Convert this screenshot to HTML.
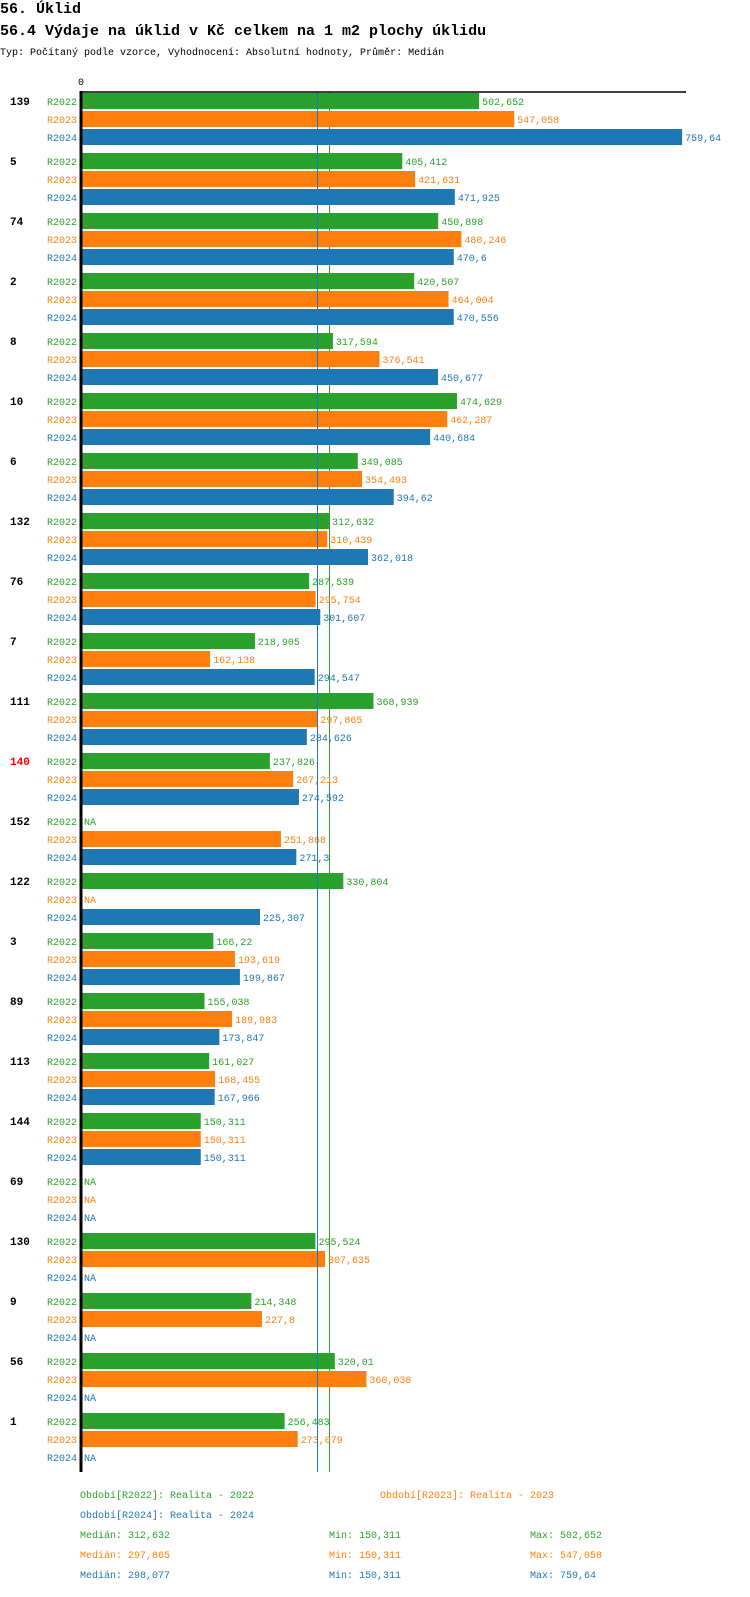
<!DOCTYPE html>
<html><head><meta charset="utf-8">
<style>
body{margin:0;background:#fff;width:750px;height:1592px;overflow:hidden}
svg text{font-family:"Liberation Mono","DejaVu Sans Mono",monospace}
</style></head>
<body>
<svg id="chart" width="750" height="1592" xmlns="http://www.w3.org/2000/svg">
<text x="0" y="13" font-size="15" font-weight="bold">56. Úklid</text>
<text x="0" y="35" font-size="15" font-weight="bold">56.4 Výdaje na úklid v Kč celkem na 1 m2 plochy úklidu</text>
<text x="0" y="55" font-size="10">Typ: Počítaný podle vzorce, Vyhodnocení: Absolutní hodnoty, Průměr: Medián</text>
<text x="78" y="85" font-size="10">0</text>
<g id="under"></g>
<g id="bars"></g>
<g id="legend"></g>
</svg>
<script>
const categories=["139","5","74","2","8","10","6","132","76","7","111","140","152","122","3","89","113","144","69","130","9","56","1"];
const series2022=[502.652,405.412,450.898,420.507,317.594,474.629,349.085,312.632,287.539,218.905,368.939,237.826,null,330.804,166.22,155.038,161.027,150.311,null,295.524,214.348,320.01,256.483];
const series2023=[547.058,421.631,480.246,464.004,376.541,462.287,354.493,310.439,295.754,162.138,297.865,267.213,251.868,null,193.619,189.983,168.455,150.311,null,307.635,227.8,360.038,273.079];
const series2024=[759.64,471.925,470.6,470.556,450.677,440.684,394.62,362.018,301.607,294.547,284.626,274.592,271.3,225.307,199.867,173.847,167.966,150.311,null,null,null,null,null];
const seriesNames=["R2022","R2023","R2024"];
const medians=[312.632,297.865,298.077];
const mins=[150.311,150.311,150.311];
const maxs=[502.652,547.058,759.64];
const highlighted=["140"];

const colors=["#2ca02c","#ff7f0e","#1f77b4"];
const NS="http://www.w3.org/2000/svg";
const X0=82, SCALE=0.79;
function xPos(v){return X0+v*SCALE;}
function groupTop(i){return 93+60*i;}
function fmt(v){return String(v).replace('.',',');}
function mk(tag,attrs,parent){const e=document.createElementNS(NS,tag);for(const k in attrs)e.setAttribute(k,attrs[k]);parent.appendChild(e);return e;}
const g=document.getElementById('bars');
const under=document.getElementById('under');
const all=[series2022,series2023,series2024];
const bottom=groupTop(categories.length)-1;
categories.forEach((c,i)=>{
  const t=mk('text',{x:10,y:groupTop(i)+12,'font-size':11,'font-weight':'bold',fill:highlighted.includes(c)?'#ff0000':'#000'},g);
  t.textContent=c;
  
  
  all.forEach((s,r)=>{
    const y=groupTop(i)+18*r;
    const lab=mk('text',{x:77,y:y+12,'font-size':10,'text-anchor':'end',fill:colors[r]},g);
    lab.textContent=seriesNames[r];
    
    
    const v=s[i];
    if(v!==null){
      const b=mk('rect',{x:X0,y:y,width:xPos(v)-X0,height:16,fill:colors[r]},g);
      
      
    }
    const vl=mk('text',{x:v===null?X0+2:xPos(v)+3,y:y+12,'font-size':10,fill:colors[r]},g);
    vl.textContent=v===null?'NA':fmt(v);
    
    
  });
});
const gl=mk('line',{x1:Math.round(xPos(medians[0]))+0.5,x2:Math.round(xPos(medians[0]))+0.5,y1:92,y2:bottom,stroke:colors[0],'stroke-width':1},under);


const bl=mk('line',{x1:Math.round(xPos(medians[2]))+0.5,x2:Math.round(xPos(medians[2]))+0.5,y1:92,y2:bottom,stroke:colors[2],'stroke-width':1},g);


const ax=mk('line',{x1:81,x2:81,y1:91,y2:bottom,stroke:'#000','stroke-width':3},g);


const tx=mk('line',{x1:80,x2:686,y1:92,y2:92,stroke:'#000','stroke-width':1.5},g);



const lg=document.getElementById('legend');
const legendItems=[[80,1498,0,"Období[R2022]: Realita - 2022"],[380,1498,1,"Období[R2023]: Realita - 2023"],[80,1518,2,"Období[R2024]: Realita - 2024"]];
legendItems.forEach(it=>{
  const t=mk('text',{x:it[0],y:it[1],'font-size':10,fill:colors[it[2]]},lg);
  t.textContent=it[3];
  
  
});
[0,1,2].forEach(r=>{
  const y=1538+20*r;
  const a=mk('text',{x:80,y:y,'font-size':10,fill:colors[r]},lg);a.textContent='Medián: '+fmt(medians[r]);
  
  
  const b=mk('text',{x:329,y:y,'font-size':10,fill:colors[r]},lg);b.textContent='Min: '+fmt(mins[r]);
  
  
  const c=mk('text',{x:530,y:y,'font-size':10,fill:colors[r]},lg);c.textContent='Max: '+fmt(maxs[r]);
  
  
});
</script>
</body></html>
